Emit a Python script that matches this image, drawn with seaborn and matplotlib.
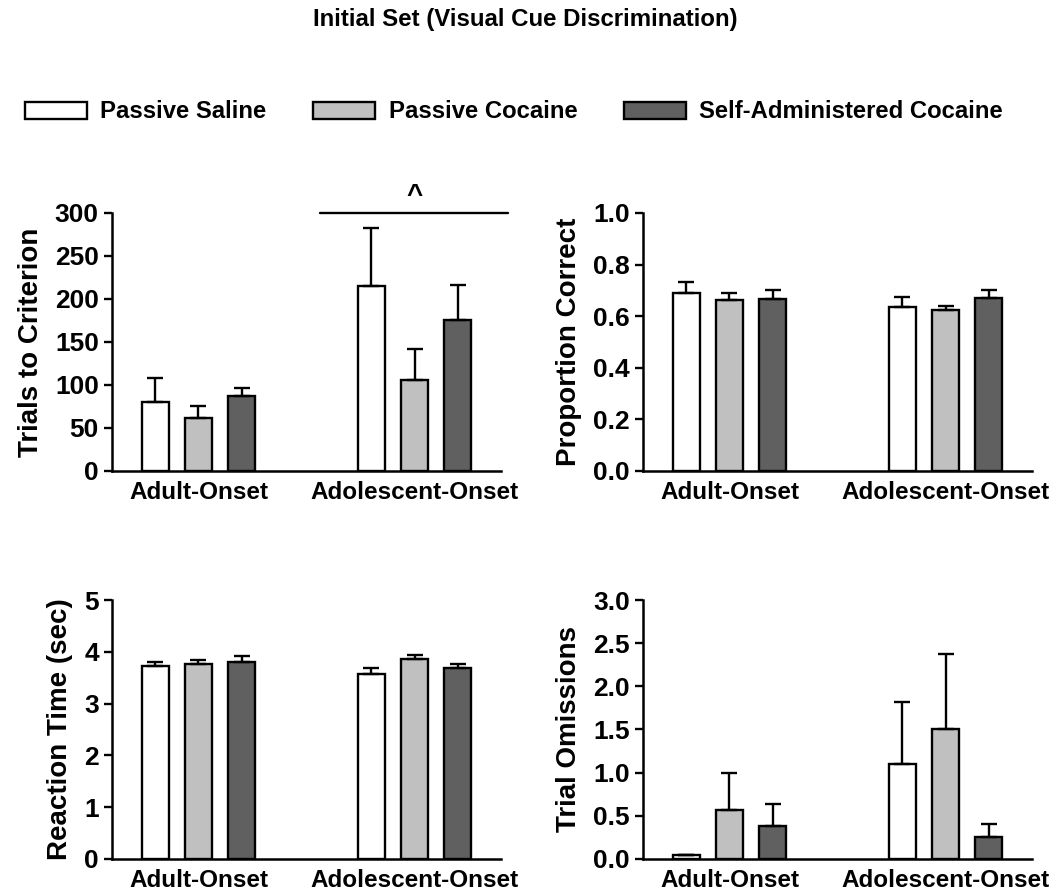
import matplotlib
matplotlib.use("Agg")
import matplotlib.pyplot as plt
from matplotlib.patches import Patch
from matplotlib.ticker import FormatStrFormatter
import numpy as np
import pandas as pd
import seaborn as sns

# data
onsets = ["Adult-Onset", "Adolescent-Onset"]
groups = ["Passive Saline", "Passive Cocaine", "Self-Administered Cocaine"]
colors = ["#ffffff", "#c0c0c0", "#606060"]

# values per group, order = [Adult-Onset, Adolescent-Onset]
trials_mean = {"Passive Saline": [80, 215], "Passive Cocaine": [61, 106], "Self-Administered Cocaine": [87, 175]}
trials_sem = {"Passive Saline": [28, 67], "Passive Cocaine": [14, 36], "Self-Administered Cocaine": [10, 41]}

correct_mean = {"Passive Saline": [0.690, 0.637], "Passive Cocaine": [0.663, 0.623], "Self-Administered Cocaine": [0.667, 0.671]}
correct_sem = {"Passive Saline": [0.042, 0.037], "Passive Cocaine": [0.027, 0.017], "Self-Administered Cocaine": [0.034, 0.032]}

rt_mean = {"Passive Saline": [3.73, 3.57], "Passive Cocaine": [3.77, 3.86], "Self-Administered Cocaine": [3.81, 3.68]}
rt_sem = {"Passive Saline": [0.08, 0.11], "Passive Cocaine": [0.08, 0.08], "Self-Administered Cocaine": [0.11, 0.08]}

omit_mean = {"Passive Saline": [0.05, 1.10], "Passive Cocaine": [0.57, 1.50], "Self-Administered Cocaine": [0.38, 0.25]}
omit_sem = {"Passive Saline": [0.0, 0.72], "Passive Cocaine": [0.43, 0.87], "Self-Administered Cocaine": [0.26, 0.15]}

sns.set_style("ticks")
plt.rcParams["font.family"] = ["Liberation Sans", "DejaVu Sans"]
plt.rcParams["font.weight"] = "bold"
plt.rcParams["axes.labelweight"] = "bold"
for k in ["text.color", "axes.labelcolor", "xtick.color", "ytick.color", "axes.edgecolor"]:
    plt.rcParams[k] = "black"


def make_df(means):
    rows = []
    for g in groups:
        for o, v in zip(onsets, means[g]):
            rows.append({"Onset": o, "Group": g, "Value": v})
    return pd.DataFrame(rows)


def draw_panel(ax, means, sems, ylabel, ymax, step, fmt=None):
    df = make_df(means)
    sns.barplot(data=df, x="Onset", y="Value", hue="Group", order=onsets,
                hue_order=groups, palette=colors, width=0.6, gap=0.37,
                edgecolor="black", linewidth=1.7, errorbar=None, legend=False, ax=ax)
    # upper-only error bars at the bar centres seaborn placed
    for cont, g in zip(ax.containers, groups):
        xs = [b.get_x() + b.get_width() / 2 for b in cont]
        ys = means[g]
        err = sems[g]
        ax.errorbar(xs, ys, yerr=[np.zeros(len(err)), err], fmt="none",
                    ecolor="black", elinewidth=1.7, capsize=6, capthick=1.7, zorder=1)
    ax.set_xlim(-0.4, 1.4)
    ax.set_ylim(0, ymax)
    ax.set_yticks(np.arange(0, ymax + step / 2, step))
    if fmt:
        ax.yaxis.set_major_formatter(FormatStrFormatter(fmt))
    ax.set_xlabel("")
    ax.set_ylabel(ylabel, fontsize=20, fontweight="bold", labelpad=8)
    ax.tick_params(axis="y", labelsize=19, width=1.7, length=6, direction="out")
    ax.tick_params(axis="x", labelsize=17.5, length=0, pad=7)
    for lab in ax.get_xticklabels() + ax.get_yticklabels():
        lab.set_fontweight("bold")
    sns.despine(ax=ax)
    for s in ["left", "bottom"]:
        ax.spines[s].set_linewidth(1.8)


fig = plt.figure(figsize=(10.5, 8.93), dpi=100)
ax1 = fig.add_axes([0.1067, 0.4726, 0.3705, 0.289])
ax2 = fig.add_axes([0.6124, 0.4726, 0.3705, 0.289])
ax3 = fig.add_axes([0.1067, 0.0381, 0.3705, 0.290])
ax4 = fig.add_axes([0.6124, 0.0381, 0.3705, 0.290])

draw_panel(ax1, trials_mean, trials_sem, "Trials to Criterion", 300, 50)
draw_panel(ax2, correct_mean, correct_sem, "Proportion Correct", 1.0, 0.2, "%.1f")
draw_panel(ax3, rt_mean, rt_sem, "Reaction Time (sec)", 5, 1)
draw_panel(ax4, omit_mean, omit_sem, "Trial Omissions", 3.0, 0.5, "%.1f")

# significance marker over the adolescent group
ax1.plot([0.56, 1.43], [300, 300], color="black", lw=1.7, clip_on=False)
ax1.text(1.0, 320, "^", ha="center", va="center", fontsize=20, fontweight="bold",
         clip_on=False)

fig.text(0.5, 0.978, "Initial Set (Visual Cue Discrimination)", ha="center",
         va="center", fontsize=17.3, fontweight="bold")

handles = [Patch(facecolor=c, edgecolor="black", linewidth=1.7, label=g)
           for c, g in zip(colors, groups)]
fig.legend(handles=handles, loc="center left", bbox_to_anchor=(0.024, 1 - 112 / 893),
           ncol=3, frameon=False, prop={"size": 17.2, "weight": "bold"},
           handlelength=2.6, handleheight=0.7, handletextpad=0.55, columnspacing=1.95,
           borderpad=0, borderaxespad=0)

fig.savefig("out.png", dpi=100)
